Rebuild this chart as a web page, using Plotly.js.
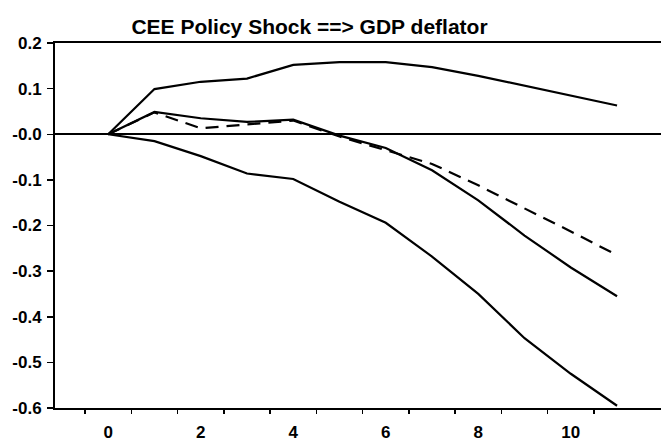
<!DOCTYPE html>
<html>
<head>
<meta charset="utf-8">
<script src="https://cdn.plot.ly/plotly-3.0.1.min.js"></script>
<style>html,body{margin:0;padding:0;background:#fff;}#chart{width:661px;height:444px;}</style>
</head>
<body>
<div id="chart"></div>
<script>
var horizon = [0, 1, 2, 3, 4, 5, 6, 7, 8, 9, 10, 11];
var upperBand = [0, 0.099, 0.115, 0.122, 0.152, 0.158, 0.158, 0.147, 0.128, 0.106, 0.085, 0.063];
var pointEstimate = [0, 0.049, 0.035, 0.027, 0.032, -0.003, -0.030, -0.079, -0.145, -0.222, -0.292, -0.355];
var altEstimate = [0, 0.048, 0.013, 0.022, 0.030, -0.005, -0.035, -0.065, -0.112, -0.162, -0.213, -0.265];
var lowerBand = [0, -0.015, -0.048, -0.086, -0.098, -0.148, -0.194, -0.268, -0.350, -0.447, -0.525, -0.595];
var yTickVals = [0.2, 0.1, 0, -0.1, -0.2, -0.3, -0.4, -0.5, -0.6];
var yTickText = ["0.2", "0.1", "-0.0", "-0.1", "-0.2", "-0.3", "-0.4", "-0.5", "-0.6"];
var xTickVals = [0, 2, 4, 6, 8, 10];
var xMinorTicks = [-0.5, 0.5, 1.5, 2.5, 3.5, 4.5, 5.5, 6.5, 7.5, 8.5, 9.5, 10.5];

var lineStyle = {color: '#000', width: 2.2};
var traces = [
  {x: horizon, y: upperBand, mode: 'lines', line: lineStyle},
  {x: horizon, y: pointEstimate, mode: 'lines', line: lineStyle},
  {x: horizon, y: altEstimate, mode: 'lines', line: {color: '#000', width: 2.2, dash: '13px,8px'}},
  {x: horizon, y: lowerBand, mode: 'lines', line: lineStyle}
];

var fam = 'Liberation Sans, Arial, sans-serif';
var layout = {
  width: 661, height: 444,
  margin: {l: 55, r: 0, t: 43, b: 36, pad: 0},
  paper_bgcolor: '#fff', plot_bgcolor: '#fff',
  showlegend: false,
  font: {family: fam, size: 16, color: '#000'},
  title: {text: '<b>CEE Policy Shock ==> GDP deflator</b>', x: 0.42, xref: 'paper', xanchor: 'center', y: 0.94, yref: 'container', yanchor: 'middle',
          font: {family: fam, size: 21, color: '#000'}},
  xaxis: {
    range: [-1.15, 11.95], showgrid: false, zeroline: false,
    showline: true, linecolor: '#000', linewidth: 2, mirror: true,
    tickmode: 'array', tickvals: xTickVals, ticks: 'outside', ticklen: 0,
    ticklabelstandoff: 8,
    tickfont: {family: fam, size: 17, color: '#000', weight: 'bold'},
    minor: {tickmode: 'array', tickvals: xMinorTicks, ticks: 'outside', ticklen: 4, tickcolor: '#000', tickwidth: 1.5, showgrid: false}
  },
  yaxis: {
    range: [-0.6, 0.2], showgrid: false,
    zeroline: true, zerolinecolor: '#000', zerolinewidth: 2,
    showline: true, linecolor: '#000', linewidth: 2,
    tickmode: 'array', tickvals: yTickVals, ticktext: yTickText,
    ticks: 'outside', ticklen: 6, tickcolor: '#000', tickwidth: 1.5,
    ticklabelstandoff: 2,
    tickfont: {family: fam, size: 17, color: '#000', weight: 'bold'}
  }
};
Plotly.newPlot('chart', traces, layout, {staticPlot: true, displayModeBar: false});
</script>
</body>
</html>
